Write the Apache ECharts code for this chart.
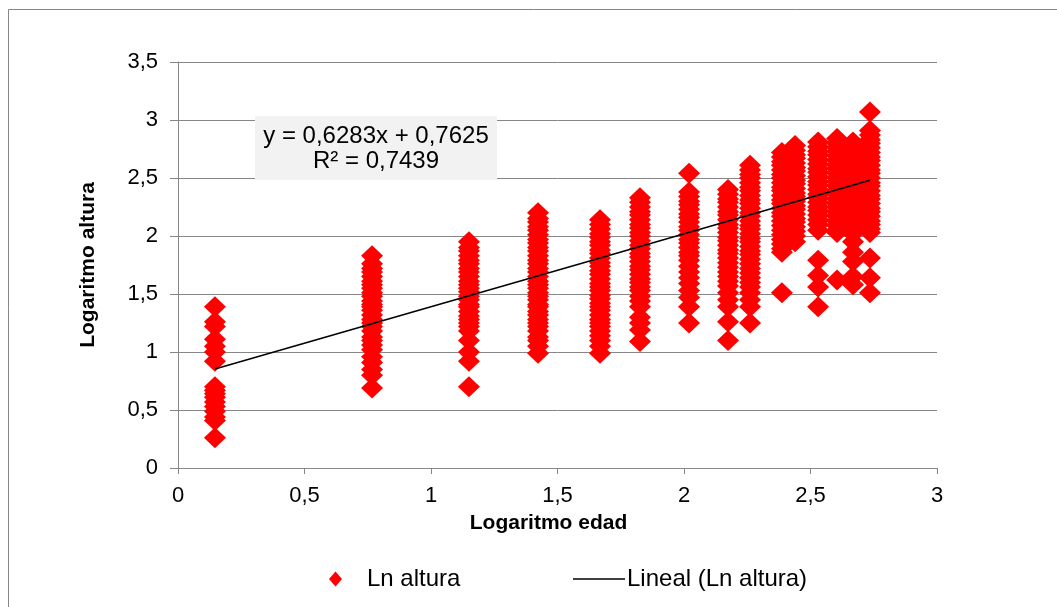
<!DOCTYPE html>
<html>
<head>
<meta charset="utf-8">
<script src="https://cdn.jsdelivr.net/npm/echarts@6/dist/echarts.min.js"></script>
<style>
html,body{margin:0;padding:0;background:#fff;}
#chart{width:1057px;height:607px;}
</style>
</head>
<body>
<div id="chart"></div>
<script>
// x positions of the age groups (log of age)
const columnX = [0.146, 0.767, 1.150, 1.423, 1.668, 1.826, 2.020, 2.174, 2.261, 2.387, 2.439, 2.530, 2.605, 2.668, 2.735];

// log of height values per age group
const col01 = [1.39, 1.26, 1.22, 1.11, 1.05, 1.00, 0.92, 0.70, 0.67, 0.64, 0.61, 0.57, 0.53, 0.49, 0.44, 0.41, 0.26];
const col02 = [1.83, 1.76, 1.72, 1.69, 1.65, 1.61, 1.58, 1.55, 1.51, 1.48, 1.44, 1.41, 1.39, 1.36, 1.32, 1.28, 1.25, 1.22, 1.18, 1.13, 1.10, 1.06, 1.02, 0.96, 0.91, 0.85, 0.80, 0.69];
const col03 = [1.95, 1.90, 1.87, 1.83, 1.79, 1.76, 1.72, 1.69, 1.65, 1.61, 1.58, 1.55, 1.52, 1.48, 1.45, 1.41, 1.39, 1.35, 1.31, 1.28, 1.25, 1.22, 1.18, 1.10, 1.00, 0.92, 0.70];
const col04 = [2.20, 2.15, 2.12, 2.08, 2.05, 2.01, 1.97, 1.94, 1.90, 1.87, 1.83, 1.79, 1.76, 1.72, 1.69, 1.65, 1.61, 1.58, 1.55, 1.51, 1.48, 1.45, 1.41, 1.39, 1.35, 1.32, 1.28, 1.25, 1.22, 1.18, 1.13, 1.10, 1.05, 0.99];
const col05 = [2.14, 2.10, 2.06, 2.02, 1.99, 1.95, 1.92, 1.88, 1.85, 1.81, 1.77, 1.74, 1.70, 1.67, 1.63, 1.59, 1.56, 1.53, 1.49, 1.46, 1.42, 1.39, 1.36, 1.32, 1.28, 1.25, 1.22, 1.18, 1.14, 1.10, 1.05, 0.99];
const col06 = [2.33, 2.29, 2.25, 2.21, 2.18, 2.14, 2.10, 2.07, 2.03, 2.00, 1.96, 1.92, 1.89, 1.85, 1.82, 1.78, 1.74, 1.71, 1.67, 1.63, 1.60, 1.56, 1.53, 1.48, 1.44, 1.39, 1.30, 1.25, 1.19, 1.09];
const col07 = [2.54, 2.38, 2.34, 2.30, 2.27, 2.23, 2.19, 2.16, 2.12, 2.08, 2.05, 2.01, 1.97, 1.94, 1.90, 1.86, 1.83, 1.79, 1.74, 1.69, 1.64, 1.59, 1.53, 1.47, 1.39, 1.25];
const col08 = [2.40, 2.36, 2.32, 2.29, 2.25, 2.21, 2.18, 2.14, 2.10, 2.07, 2.03, 1.99, 1.96, 1.92, 1.88, 1.85, 1.81, 1.77, 1.73, 1.69, 1.65, 1.61, 1.57, 1.51, 1.45, 1.39, 1.26, 1.10];
const col09 = [2.61, 2.57, 2.53, 2.50, 2.46, 2.42, 2.39, 2.35, 2.31, 2.28, 2.24, 2.20, 2.17, 2.13, 2.09, 2.06, 2.02, 1.98, 1.95, 1.91, 1.87, 1.84, 1.80, 1.76, 1.72, 1.68, 1.64, 1.60, 1.56, 1.51, 1.45, 1.39, 1.25];
const col10 = [2.72, 2.68, 2.64, 2.61, 2.57, 2.53, 2.50, 2.46, 2.42, 2.39, 2.35, 2.31, 2.28, 2.24, 2.20, 2.17, 2.13, 2.09, 2.05, 2.01, 1.97, 1.93, 1.89, 1.86, 1.51];
const col11 = [2.78, 2.74, 2.70, 2.67, 2.63, 2.59, 2.56, 2.52, 2.48, 2.45, 2.41, 2.37, 2.34, 2.30, 2.26, 2.23, 2.19, 2.15, 2.12, 2.08, 2.04, 2.00, 1.95];
const col12 = [2.81, 2.77, 2.73, 2.70, 2.66, 2.62, 2.58, 2.55, 2.51, 2.47, 2.44, 2.40, 2.36, 2.33, 2.29, 2.25, 2.22, 2.18, 2.14, 2.10, 2.05, 1.79, 1.66, 1.56, 1.39];
const col13 = [2.84, 2.80, 2.76, 2.73, 2.69, 2.65, 2.61, 2.58, 2.54, 2.50, 2.47, 2.43, 2.39, 2.36, 2.32, 2.28, 2.25, 2.21, 2.17, 2.13, 2.09, 2.05, 2.03, 1.62];
const col14 = [2.81, 2.77, 2.73, 2.70, 2.66, 2.62, 2.58, 2.55, 2.51, 2.47, 2.44, 2.40, 2.36, 2.33, 2.29, 2.25, 2.22, 2.18, 2.14, 2.10, 2.06, 2.02, 1.95, 1.86, 1.78, 1.65, 1.58];
const col15 = [3.07, 2.91, 2.87, 2.83, 2.80, 2.76, 2.72, 2.68, 2.65, 2.61, 2.57, 2.54, 2.50, 2.46, 2.43, 2.39, 2.35, 2.32, 2.28, 2.24, 2.21, 2.17, 2.13, 2.10, 2.06, 2.03, 1.81, 1.64, 1.51];
const columnY = [col01, col02, col03, col04, col05, col06, col07, col08, col09, col10, col11, col12, col13, col14, col15];

// linear trend line end points (from the displayed equation)
const trendX = [0.146, 2.735];
const trendY = [0.854, 2.481];

const equationLines = ['y = 0,6283x + 0,7625', 'R² = 0,7439'];
const seriesNames = ['Ln altura', 'Lineal (Ln altura)'];

const scatterData = [];
columnX.forEach((x, i) => columnY[i].forEach(y => scatterData.push([x, y])));
const trendData = trendX.map((x, i) => [x, trendY[i]]);

const FONT = '"Liberation Sans", Arial, sans-serif';
const GRAY = '#868686';
const fmt = v => String(v).replace('.', ',');

const chart = echarts.init(document.getElementById('chart'));
chart.setOption({
  animation: false,
  backgroundColor: '#fff',
  textStyle: { fontFamily: FONT },
  grid: { left: 178, right: 120, top: 62, bottom: 139, containLabel: false },
  xAxis: {
    type: 'value', min: 0, max: 3, interval: 0.5,
    name: 'Logaritmo edad', nameLocation: 'middle', nameGap: 45,
    nameTextStyle: { fontFamily: FONT, fontSize: 21, fontWeight: 'bold', color: '#000', padding: [0, 18, 0, 0] },
    axisLine: { show: true, lineStyle: { color: GRAY, width: 1 } },
    axisTick: { show: true, length: 6, lineStyle: { color: GRAY } },
    axisLabel: { margin: 17, fontFamily: FONT, fontSize: 22, color: '#000', formatter: fmt },
    splitLine: { show: false }
  },
  yAxis: {
    type: 'value', min: 0, max: 3.5, interval: 0.5,
    name: 'Logaritmo altura', nameLocation: 'middle', nameGap: 79, nameRotate: 90,
    nameTextStyle: { fontFamily: FONT, fontSize: 21, fontWeight: 'bold', color: '#000' },
    axisLine: { show: true, lineStyle: { color: GRAY, width: 1 } },
    axisTick: { show: true, length: 8, lineStyle: { color: GRAY } },
    axisLabel: { margin: 20, fontFamily: FONT, fontSize: 22, color: '#000', formatter: fmt },
    splitLine: { show: true, lineStyle: { color: GRAY, width: 1 } }
  },
  legend: [
    {
      data: [{ name: seriesNames[0], icon: 'diamond' }],
      left: 324, top: 562, itemWidth: 13, itemHeight: 15,
      textStyle: { fontFamily: FONT, fontSize: 24, color: '#000', padding: [0, 0, 0, 20] },
      selectedMode: false
    },
    {
      data: [{ name: seriesNames[1], icon: 'rect' }],
      left: 568, top: 562, itemWidth: 52, itemHeight: 1.5,
      itemStyle: { color: '#000' },
      textStyle: { fontFamily: FONT, fontSize: 24, color: '#000', padding: [0, 0, 0, -3] },
      selectedMode: false
    }
  ],
  graphic: [
    {
      type: 'rect', z: 100, silent: true,
      shape: { x: 8.5, y: 9.5, width: 1200, height: 800 },
      style: { fill: 'none', stroke: GRAY, lineWidth: 1 }
    },
    {
      type: 'rect', z: 100, silent: true,
      shape: { x: 255, y: 116, width: 242, height: 64 },
      style: { fill: '#f2f2f2' }
    },
    {
      type: 'text', z: 101, silent: true,
      style: {
        text: equationLines.join('\n'), x: 376, y: 149,
        align: 'center', verticalAlign: 'middle',
        font: '24px ' + FONT, lineHeight: 25, fill: '#000'
      }
    }
  ],
  series: [
    {
      name: seriesNames[0], type: 'scatter', symbol: 'diamond', symbolSize: [22, 21],
      itemStyle: { color: '#ff0000', opacity: 1 }, data: scatterData, z: 2
    },
    {
      name: seriesNames[1], type: 'line', symbol: 'none', showSymbol: false,
      lineStyle: { color: '#000', width: 1.5 }, itemStyle: { color: '#000' },
      data: trendData, z: 5
    }
  ]
});
</script>
</body>
</html>
